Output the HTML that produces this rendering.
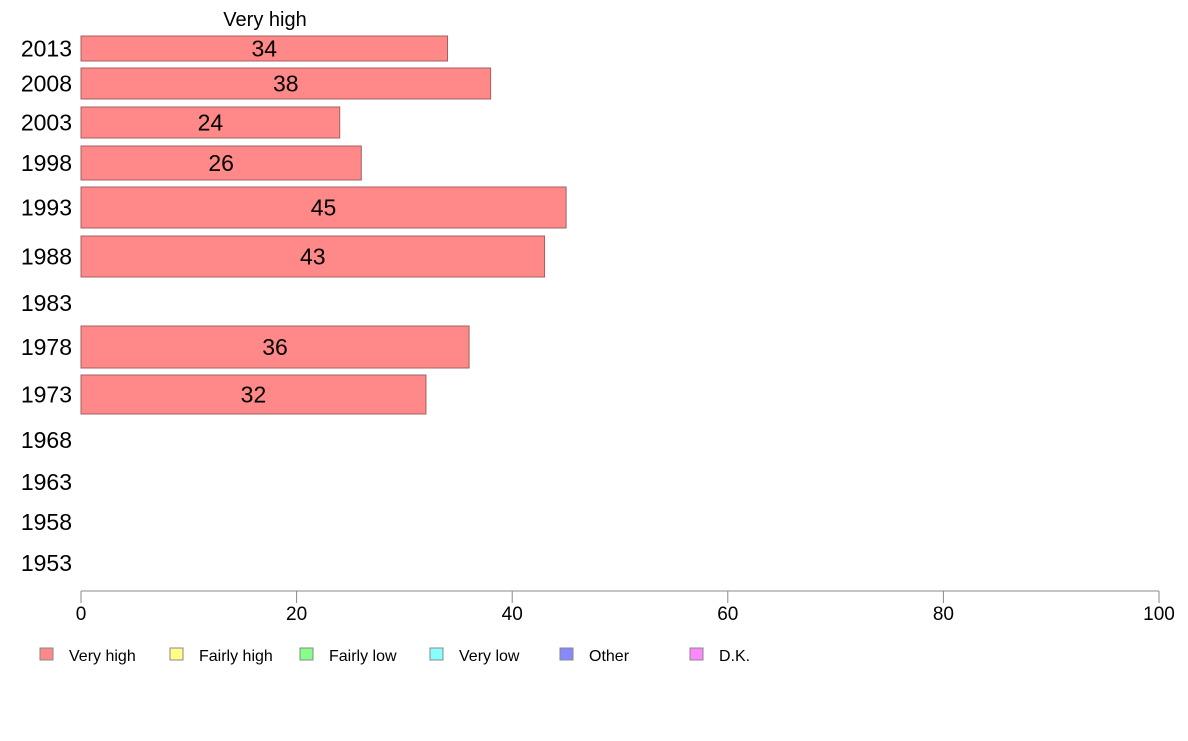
<!DOCTYPE html>
<html><head><meta charset="utf-8"><style>
body{margin:0;background:#fff;font-family:"Liberation Sans",sans-serif}
svg text{font-family:"Liberation Sans",sans-serif}
</style></head><body>
<svg id="chart" width="1188" height="736" xmlns="http://www.w3.org/2000/svg">
<text x="265" y="26" font-size="20" text-anchor="middle">Very high</text>
<g id="bars"></g>
<g id="axis"></g>
<g id="legend"></g>
</svg>
<script>
const years = ["2013","2008","2003","1998","1993","1988","1983","1978","1973","1968","1963","1958","1953"];
const values = [34,38,24,26,45,43,null,36,32,null,null,null,null];
const ticks = [0,20,40,60,80,100];
const legendLabels = ["Very high","Fairly high","Fairly low","Very low","Other","D.K."];
const legendColors = ["#ff8888","#ffff88","#88ff88","#88ffff","#8888ff","#ff88ff"];
// layout (row band tops/bottoms in px)
const rowTop = [36,68,107,146,187,236,290,326,375,427,469,509,550];
const rowBot = [61,99,138,180,228,277,316,368,414,453,495,535,576];
const NS="http://www.w3.org/2000/svg";
const x0=81,x1=1159,xMax=100;
const xs=v=>x0+(x1-x0)*v/xMax;
const bars=document.getElementById('bars');
years.forEach((y,i)=>{
  const cy=(rowTop[i]+rowBot[i])/2;
  const t=document.createElementNS(NS,'text');
  
  
  t.setAttribute('x',72);t.setAttribute('y',cy+8);t.setAttribute('font-size',23);t.setAttribute('text-anchor','end');
  t.textContent=y;bars.appendChild(t);
  if(values[i]==null)return;
  const r=document.createElementNS(NS,'rect');
  
  
  r.setAttribute('x',xs(0));r.setAttribute('y',rowTop[i]);
  r.setAttribute('width',xs(values[i])-xs(0));r.setAttribute('height',rowBot[i]-rowTop[i]);
  r.setAttribute('fill','#ff8888');r.setAttribute('stroke','#a06060');r.setAttribute('stroke-width','1');
  bars.appendChild(r);
  const v=document.createElementNS(NS,'text');
  
  
  v.setAttribute('x',xs(values[i]/2));v.setAttribute('y',cy+8);v.setAttribute('font-size',23);v.setAttribute('text-anchor','middle');
  v.textContent=values[i];bars.appendChild(v);
});
const ax=document.getElementById('axis');
const l=document.createElementNS(NS,'line');


l.setAttribute('x1',x0);l.setAttribute('x2',x1);l.setAttribute('y1',591);l.setAttribute('y2',591);l.setAttribute('stroke','#888');
ax.appendChild(l);
ticks.forEach(t=>{
  const tk=document.createElementNS(NS,'line');
  
  
  tk.setAttribute('x1',xs(t));tk.setAttribute('x2',xs(t));tk.setAttribute('y1',591);tk.setAttribute('y2',603);tk.setAttribute('stroke','#888');
  ax.appendChild(tk);
  const tx=document.createElementNS(NS,'text');
  
  
  tx.setAttribute('x',xs(t));tx.setAttribute('y',620);tx.setAttribute('font-size',19);tx.setAttribute('text-anchor','middle');
  tx.textContent=t;ax.appendChild(tx);
});
const lg=document.getElementById('legend');
const lx=[40,170,300,430,560,690];
legendLabels.forEach((s,i)=>{
  const r=document.createElementNS(NS,'rect');
  
  
  r.setAttribute('x',lx[i]);r.setAttribute('y',648);r.setAttribute('width',13);r.setAttribute('height',12);
  r.setAttribute('fill',legendColors[i]);r.setAttribute('stroke','#888');
  lg.appendChild(r);
  const t=document.createElementNS(NS,'text');
  
  
  t.setAttribute('x',lx[i]+29);t.setAttribute('y',661);t.setAttribute('font-size',16);
  t.textContent=s;lg.appendChild(t);
});
</script>
</body></html>
